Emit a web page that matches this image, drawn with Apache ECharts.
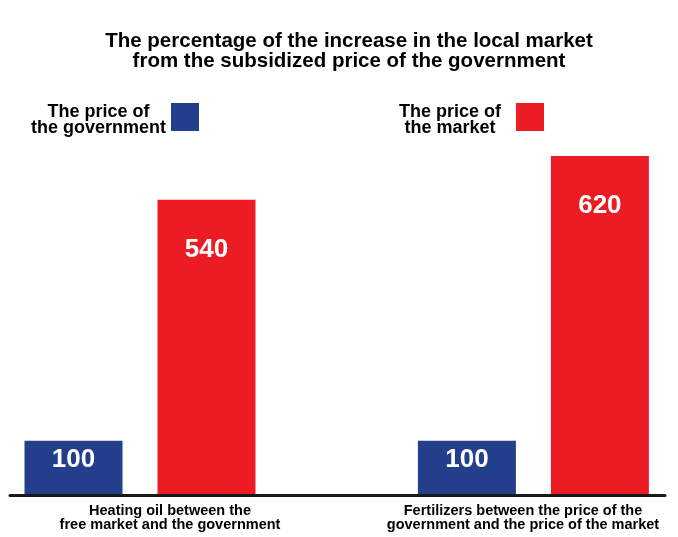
<!DOCTYPE html>
<html>
<head>
<meta charset="utf-8">
<script src="https://cdn.jsdelivr.net/npm/echarts@6/dist/echarts.min.js"></script>
<style>html,body{margin:0;padding:0;background:#fff}#c{width:678px;height:537px}</style>
</head>
<body>
<div id="c"></div>
<script>
const titleText = 'The percentage of the increase in the local market\nfrom the subsidized price of the government';
const categories = [
  'Heating oil between the\nfree market and the government',
  'Fertilizers between the price of the\ngovernment and the price of the market'
];
const seriesNames = ['The price of\nthe government', 'The price of\nthe market'];
const governmentValues = [100, 100];
const marketValues = [540, 620];
const valueMax = 620;

const FONT = '"Liberation Sans", Arial, Helvetica, sans-serif';
const BLUE = '#233f8c';
const RED = '#ec1c24';

const legendFormatter = name => name.split('\n').map(s => '{a|' + s + '}').join('\n');
const legendText = pad => ({
  color: '#000', fontSize: 18, fontWeight: 'bold', fontFamily: FONT, padding: pad,
  rich: { a: { color: '#000', fontSize: 18, fontWeight: 'bold', fontFamily: FONT, lineHeight: 16, align: 'center' } }
});

const chart = echarts.init(document.getElementById('c'), null, { renderer: 'canvas' });
chart.setOption({
  animation: false,
  backgroundColor: '#fff',
  title: {
    text: titleText,
    left: 349,
    textAlign: 'center',
    top: 31,
    padding: 0,
    textStyle: { color: '#000', fontSize: 20.5, fontWeight: 'bold', fontFamily: FONT, lineHeight: 20 }
  },
  legend: [
    {
      data: [seriesNames[0]], left: 31, top: 103, padding: 0, align: 'right', icon: 'rect',
      itemWidth: 28, itemHeight: 28, formatter: legendFormatter, textStyle: legendText([6, 0, 0, 0])
    },
    {
      data: [seriesNames[1]], left: 399, top: 103, padding: 0, align: 'right', icon: 'rect',
      itemWidth: 28, itemHeight: 28, formatter: legendFormatter, textStyle: legendText([6, 10, 0, 0])
    }
  ],
  grid: [
    { left: 140, right: 144.6, top: 156, bottom: 41.5 },
    { left: 10, right: 13, top: 156, bottom: 41.5 },
    { left: 170, right: 155, top: 156, bottom: 41.5 }
  ],
  xAxis: [
    { type: 'category', gridIndex: 0, data: categories, boundaryGap: false, show: false },
    {
      type: 'category', gridIndex: 1, data: categories, z: 10,
      axisLine: { show: true, lineStyle: { color: '#1a1a1a', width: 3 } },
      axisTick: { show: false }, axisLabel: { show: false }, splitLine: { show: false }
    },
    {
      type: 'category', gridIndex: 2, data: categories, boundaryGap: false,
      axisLine: { show: false }, axisTick: { show: false }, splitLine: { show: false },
      axisLabel: {
        show: true, margin: 9, interval: 0, showMinLabel: true, showMaxLabel: true,
        color: '#000', fontSize: 14.5, fontWeight: 'bold',
        fontFamily: FONT, lineHeight: 13.5, align: 'center'
      }
    }
  ],
  yAxis: [
    { type: 'value', gridIndex: 0, min: 0, max: valueMax, show: false },
    { type: 'value', gridIndex: 1, min: 0, max: 1, show: false },
    { type: 'value', gridIndex: 2, min: 0, max: 1, show: false }
  ],
  series: [
    {
      name: seriesNames[0], type: 'bar', xAxisIndex: 0, yAxisIndex: 0, clip: false,
      data: governmentValues, barWidth: 98, barGap: '35.7%',
      itemStyle: { color: BLUE },
      label: {
        show: true, position: 'inside', offset: [0, -8], color: '#fff',
        fontSize: 26, fontWeight: 'bold', fontFamily: FONT
      }
    },
    {
      name: seriesNames[1], type: 'bar', xAxisIndex: 0, yAxisIndex: 0, clip: false,
      data: marketValues, barWidth: 98, barGap: '35.7%',
      itemStyle: { color: RED },
      label: {
        show: true, position: 'insideTop', distance: 37, color: '#fff',
        fontSize: 26, fontWeight: 'bold', fontFamily: FONT
      }
    }
  ]
});
</script>
</body>
</html>
